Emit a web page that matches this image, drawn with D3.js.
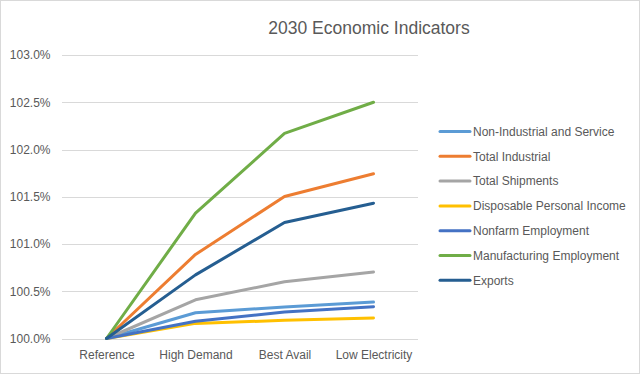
<!DOCTYPE html>
<html>
<head>
<meta charset="utf-8">
<script src="https://cdn.jsdelivr.net/npm/d3@7/dist/d3.min.js"></script>
<style>
  html, body { margin: 0; padding: 0; background: #fff; }
  svg { display: block; font-family: "Liberation Sans", Arial, sans-serif; }
</style>
</head>
<body>
<svg id="chart" width="640" height="374"></svg>
<script>
const title = "2030 Economic Indicators";
const categories = ["Reference", "High Demand", "Best Avail", "Low Electricity"];
const seriesNames = ["Non-Industrial and Service", "Total Industrial", "Total Shipments",
  "Disposable Personal Income", "Nonfarm Employment", "Manufacturing Employment", "Exports"];
const seriesColors = ["#5B9BD5", "#ED7D31", "#A5A5A5", "#FFC000", "#4472C4", "#70AD47", "#255E91"];
const nonIndustrial = [1.000, 1.00273, 1.00334, 1.00385];
const totalIndustrial = [1.000, 1.00890, 1.01502, 1.01743];
const totalShipments = [1.000, 1.00410, 1.00600, 1.00704];
const disposableIncome = [1.000, 1.00160, 1.00192, 1.00217];
const nonfarmEmployment = [1.000, 1.00182, 1.00280, 1.00337];
const manufacturingEmployment = [1.000, 1.01326, 1.02170, 1.02500];
const exportsSeries = [1.000, 1.00673, 1.01227, 1.01432];
const yTicks = [1.000, 1.005, 1.010, 1.015, 1.020, 1.025, 1.030];

const seriesValues = [nonIndustrial, totalIndustrial, totalShipments, disposableIncome,
  nonfarmEmployment, manufacturingEmployment, exportsSeries];

const svg = d3.select("#chart");
const W = 640, H = 374;

// outer border
svg.append("rect").attr("x", 0.5).attr("y", 0.5).attr("width", W - 1).attr("height", H - 1)
  .attr("fill", "#fff").attr("stroke", "#d9d9d9").attr("stroke-width", 1);

const plot = { left: 62, right: 418, top: 55, bottom: 338.5 };

const x = d3.scalePoint().domain(categories).range([plot.left, plot.right]).padding(0.5);
const y = d3.scaleLinear().domain([1.000, 1.030]).range([plot.bottom, plot.top]);

// gridlines
svg.append("g").selectAll("line").data(yTicks).join("line")
  .attr("x1", plot.left).attr("x2", plot.right)
  .attr("y1", d => Math.round(y(d)) + 0.5).attr("y2", d => Math.round(y(d)) + 0.5)
  .attr("stroke", "#d9d9d9").attr("stroke-width", 1);

// y axis labels
const yAxis = d3.axisLeft(y).tickValues(yTicks).tickSize(0).tickPadding(0)
  .tickFormat(d3.format(".1%"));
const gy = svg.append("g").attr("transform", `translate(${50.5},0)`).call(yAxis);
gy.select(".domain").remove();
gy.selectAll("text").attr("fill", "#595959").style("font-size", "12px")
  .style("font-family", "Liberation Sans, Arial, sans-serif");

// x axis labels
const xAxis = d3.axisBottom(x).tickSize(0).tickPadding(0);
const gx = svg.append("g").attr("transform", `translate(0,${350})`).call(xAxis);
gx.select(".domain").remove();
gx.selectAll("text").attr("fill", "#595959").style("font-size", "12px")
  .style("font-family", "Liberation Sans, Arial, sans-serif");

// lines
const line = d3.line().x((d, i) => x(categories[i])).y(d => y(d));
svg.append("g").selectAll("path").data(seriesValues).join("path")
  .attr("d", d => line(d))
  .attr("fill", "none")
  .attr("stroke", (d, i) => seriesColors[i])
  .attr("stroke-width", 3)
  .attr("stroke-linejoin", "round")
  .attr("stroke-linecap", "round");

// title
svg.append("text").attr("x", 369).attr("y", 34).attr("text-anchor", "middle")
  .attr("fill", "#595959").style("font-size", "17.5px").text(title);

// legend
const lg = svg.append("g");
const rows = lg.selectAll("g").data(seriesNames).join("g")
  .attr("transform", (d, i) => `translate(440,${131.5 + i * 24.8})`);
rows.append("line").attr("x1", 0).attr("x2", 30).attr("y1", 0).attr("y2", 0)
  .attr("stroke", (d, i) => seriesColors[i]).attr("stroke-width", 3).attr("stroke-linecap", "round");
rows.append("text").attr("x", 33).attr("y", 0).attr("dy", "0.35em")
  .attr("fill", "#595959").style("font-size", "12px").text(d => d);
</script>
</body>
</html>
